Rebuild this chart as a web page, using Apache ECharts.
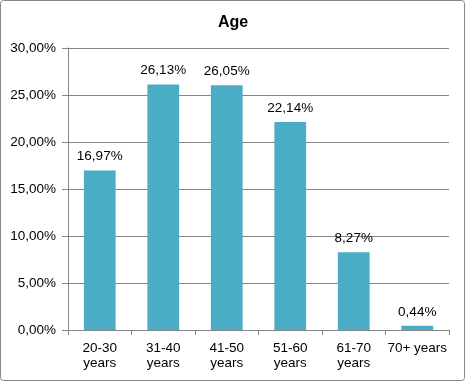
<!DOCTYPE html>
<html><head><meta charset="utf-8">
<script src="https://cdn.jsdelivr.net/npm/echarts@6/dist/echarts.min.js"></script>
<style>html,body{margin:0;padding:0;background:#fff}#c{width:466px;height:382px}</style>
</head><body><div id="c"></div>
<script>
var categories = ["20-30\nyears", "31-40\nyears", "41-50\nyears", "51-60\nyears", "61-70\nyears", "70+ years"];
var values = [16.97, 26.13, 26.05, 22.14, 8.27, 0.44];
var title = "Age";
function fmt(v){ return v.toFixed(2).replace('.', ',') + '%'; }
var chart = echarts.init(document.getElementById('c'), null, {renderer:'canvas'});
chart.setOption({
  animation:false,
  backgroundColor:'#fff',
  graphic:[{type:'rect', shape:{x:0.5,y:0.5,width:464,height:380,r:3}, style:{fill:'none',stroke:'#868686',lineWidth:1}, silent:true}],
  title:{text:title, left:'center', top:10, textStyle:{fontFamily:'Liberation Sans, Arial', fontSize:16, fontWeight:'bold', color:'#000'}},
  grid:{left:68, right:17, top:48, bottom:52, containLabel:false},
  xAxis:{type:'category', data:categories,
    axisLine:{lineStyle:{color:'#868686'}},
    axisTick:{show:true, length:5, alignWithLabel:false, lineStyle:{color:'#868686'}},
    axisLabel:{interval:0, margin:11, color:'#000', fontFamily:'Liberation Sans, Arial', fontSize:13.5, lineHeight:15}},
  yAxis:{type:'value', min:0, max:30, interval:5,
    axisLine:{show:true, lineStyle:{color:'#868686'}},
    axisTick:{show:true, length:6, lineStyle:{color:'#868686'}},
    splitLine:{lineStyle:{color:'#868686'}},
    axisLabel:{margin:12, color:'#000', fontFamily:'Liberation Sans, Arial', fontSize:13.5, formatter:function(v){return fmt(v);}}},
  series:[{type:'bar', data:values, barWidth:'50%', itemStyle:{color:'#4BACC6'},
    label:{show:true, position:'top', distance:7, color:'#000', fontFamily:'Liberation Sans, Arial', fontSize:13.5, formatter:function(p){return fmt(p.value);}}}]
});
</script></body></html>
